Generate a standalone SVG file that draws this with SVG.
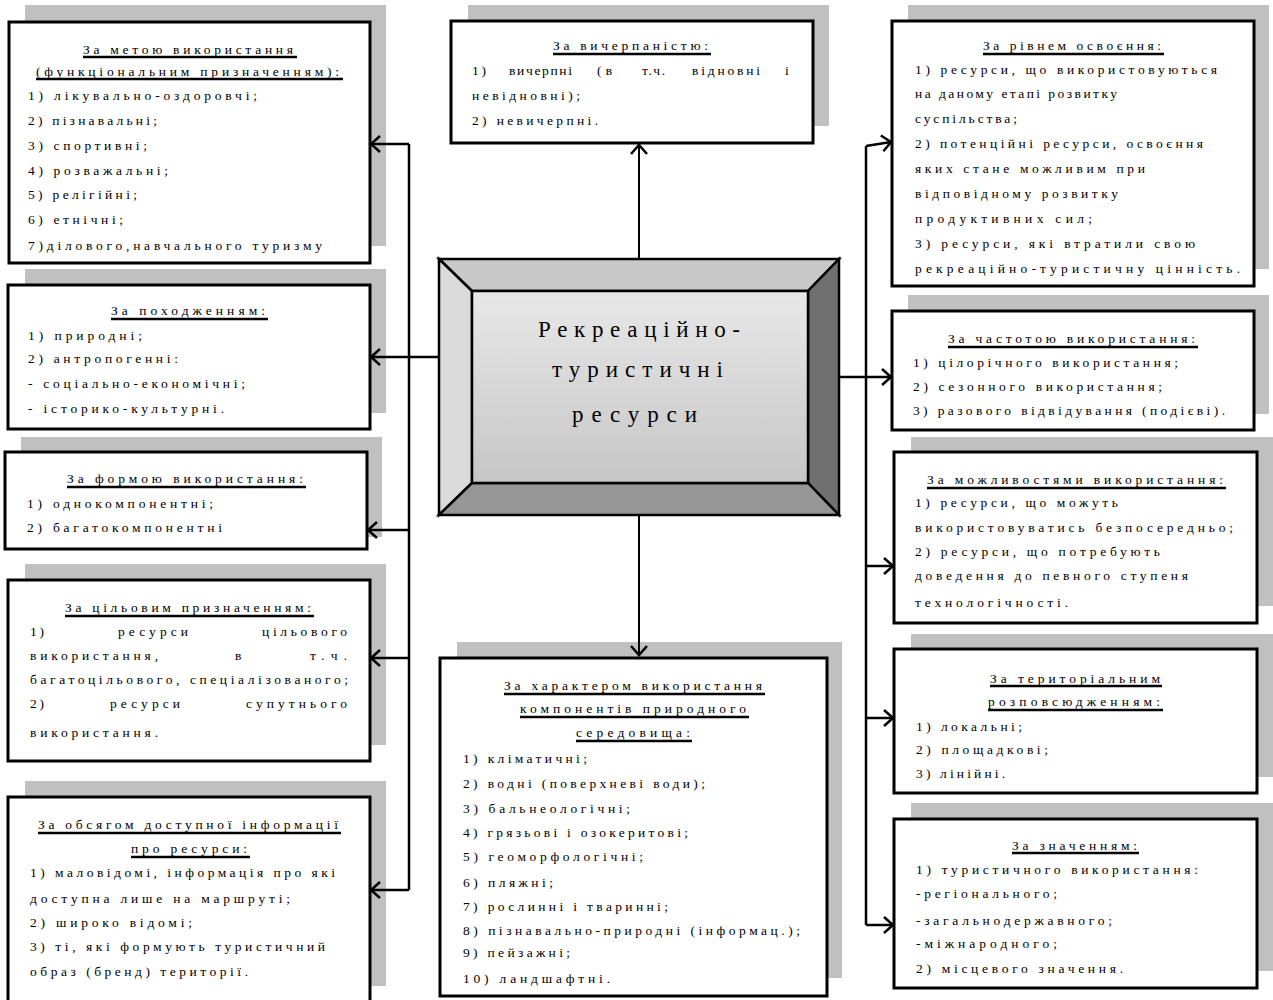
<svg xmlns="http://www.w3.org/2000/svg" width="1273" height="1000" viewBox="0 0 1273 1000">
<style>
.sh{fill:#c0c0c0;stroke:none}
.bx{fill:#fff;stroke:#000;stroke-width:3}
.t{font-family:"Liberation Serif","Times New Roman",serif;font-size:13.5px;fill:#000}
.ul{stroke:#000;stroke-width:2.5}
.c{fill:none;stroke:#000;stroke-width:2.5}
.cv{fill:none;stroke:#000;stroke-width:2}
.bev{stroke:#000;stroke-width:2.5;stroke-linejoin:miter}
.ct{font-family:"Liberation Serif","Times New Roman",serif;font-size:23px;fill:#000}
</style>
<defs>
<marker id="ah" markerUnits="userSpaceOnUse" viewBox="-1 -1 12 18" markerWidth="12" markerHeight="18" refX="9" refY="8" orient="auto" overflow="visible">
<path d="M0,0 L9,8 L0,16" fill="none" stroke="#000" stroke-width="2.5"/>
</marker>
<linearGradient id="g" x1="0" y1="0" x2="0" y2="1">
<stop offset="0" stop-color="#e8e8e8"/>
<stop offset="1" stop-color="#c6c6c6"/>
</linearGradient>
</defs>
<rect width="1273" height="1000" fill="#fff"/>

<g id="n-meta">
<rect class="sh" x="25" y="5" width="361" height="241"/>
<rect class="bx" x="9" y="22" width="361" height="241"/>
<text class="t" x="83" y="54" textLength="210">За метою використання</text>
<line class="ul" x1="83" y1="57" x2="297" y2="57"/>
<text class="t" x="36" y="76" textLength="303">(функціональним призначенням):</text>
<line class="ul" x1="36" y1="79" x2="343" y2="79"/>
<text class="t" x="28" y="100" textLength="229">1) лікувально-оздоровчі;</text>
<text class="t" x="28" y="125" textLength="129">2) пізнавальні;</text>
<text class="t" x="28" y="150" textLength="119">3) спортивні;</text>
<text class="t" x="28" y="175" textLength="140">4) розважальні;</text>
<text class="t" x="28" y="199" textLength="109">5) релігійні;</text>
<text class="t" x="28" y="224" textLength="95">6) етнічні;</text>
<text class="t" x="28" y="250" textLength="294">7)ділового,навчального туризму</text>
</g>

<g id="n-pokhodzh">
<rect class="sh" x="25" y="269" width="361" height="144"/>
<rect class="bx" x="8" y="285" width="362" height="144"/>
<text class="t" x="111" y="315" textLength="154">За походженням:</text>
<line class="ul" x1="111" y1="319" x2="268" y2="319"/>
<text class="t" x="28" y="340" textLength="114">1) природні;</text>
<text class="t" x="28" y="363" textLength="150">2) антропогенні:</text>
<text class="t" x="28" y="388" textLength="217">- соціально-економічні;</text>
<text class="t" x="28" y="413" textLength="196">- історико-культурні.</text>
</g>

<g id="n-forma">
<rect class="sh" x="21" y="437" width="361" height="100"/>
<rect class="bx" x="5" y="452" width="362" height="97"/>
<text class="t" x="67" y="483" textLength="236">За формою використання:</text>
<line class="ul" x1="67" y1="487" x2="306" y2="487"/>
<text class="t" x="27" y="508" textLength="186">1) однокомпонентні;</text>
<text class="t" x="27" y="532" textLength="195">2) багатокомпонентні</text>
</g>

<g id="n-tsil">
<rect class="sh" x="25" y="564" width="361" height="181"/>
<rect class="bx" x="8" y="580" width="362" height="181"/>
<text class="t" x="65" y="612" textLength="246">За цільовим призначенням:</text>
<line class="ul" x1="65" y1="616" x2="314" y2="616"/>
<text class="t" x="30" y="636" textLength="14">1)</text>
<text class="t" x="118" y="636" textLength="70">ресурси</text>
<text class="t" x="262" y="636" textLength="85">цільового</text>
<text class="t" x="30" y="660" textLength="128">використання,</text>
<text class="t" x="235" y="660">в</text>
<text class="t" x="310" y="660" textLength="37">т.ч.</text>
<text class="t" x="30" y="684" textLength="318">багатоцільового, спеціалізованого;</text>
<text class="t" x="30" y="708" textLength="14">2)</text>
<text class="t" x="110" y="708" textLength="70">ресурси</text>
<text class="t" x="246" y="708" textLength="101">супутнього</text>
<text class="t" x="30" y="737" textLength="128">використання.</text>
</g>

<g id="n-obsyag">
<rect class="sh" x="25" y="781" width="361" height="205"/>
<rect class="bx" x="8" y="797" width="362" height="215"/>
<text class="t" x="38" y="829" textLength="300">За обсягом доступної інформації</text>
<line class="ul" x1="38" y1="833" x2="341" y2="833"/>
<text class="t" x="131" y="853" textLength="116">про ресурси:</text>
<line class="ul" x1="131" y1="857" x2="250" y2="857"/>
<text class="t" x="30" y="877" textLength="305">1) маловідомі, інформація про які</text>
<text class="t" x="30" y="903" textLength="260">доступна лише на маршруті;</text>
<text class="t" x="30" y="927" textLength="162">2) широко відомі;</text>
<text class="t" x="30" y="951" textLength="295">3) ті, які формують туристичний</text>
<text class="t" x="30" y="976" textLength="218">образ (бренд) території.</text>
</g>

<g id="n-vycherp">
<rect class="sh" x="468" y="5" width="361" height="121"/>
<rect class="bx" x="451" y="21" width="362" height="122"/>
<text class="t" x="553" y="50" textLength="155">За вичерпаністю:</text>
<line class="ul" x1="553" y1="54" x2="711" y2="54"/>
<text class="t" x="472" y="75" textLength="14">1)</text>
<text class="t" x="509" y="75" textLength="63">вичерпні</text>
<text class="t" x="597" y="75" textLength="15">(в</text>
<text class="t" x="642" y="75" textLength="23">т.ч.</text>
<text class="t" x="692" y="75" textLength="68">відновні</text>
<text class="t" x="785" y="75">і</text>
<text class="t" x="472" y="100" textLength="108">невідновні);</text>
<text class="t" x="472" y="125" textLength="126">2) невичерпні.</text>
</g>

<g id="n-kharakter">
<rect class="sh" x="457" y="642" width="385" height="336"/>
<rect class="bx" x="440" y="658" width="387" height="338"/>
<text class="t" x="504" y="690" textLength="258">За характером використання</text>
<line class="ul" x1="504" y1="694" x2="765" y2="694"/>
<text class="t" x="520" y="713" textLength="226">компонентів природного</text>
<line class="ul" x1="520" y1="717" x2="749" y2="717"/>
<text class="t" x="576" y="737" textLength="114">середовища:</text>
<line class="ul" x1="576" y1="741" x2="692" y2="741"/>
<text class="t" x="463" y="763" textLength="124">1) кліматичні;</text>
<text class="t" x="463" y="788" textLength="242">2) водні (поверхневі води);</text>
<text class="t" x="463" y="813" textLength="167">3) бальнеологічні;</text>
<text class="t" x="463" y="837" textLength="225">4) грязьові і озокеритові;</text>
<text class="t" x="463" y="861" textLength="180">5) геоморфологічні;</text>
<text class="t" x="463" y="887" textLength="90">6) пляжні;</text>
<text class="t" x="463" y="911" textLength="205">7) рослинні і тваринні;</text>
<text class="t" x="463" y="935" textLength="337">8) пізнавально-природні (інформац.);</text>
<text class="t" x="463" y="957" textLength="107">9) пейзажні;</text>
<text class="t" x="463" y="983" textLength="147">10) ландшафтні.</text>
</g>

<g id="n-riven">
<rect class="sh" x="908" y="5" width="361" height="264"/>
<rect class="bx" x="892" y="21" width="362" height="265"/>
<text class="t" x="983" y="50" textLength="178">За рівнем освоєння:</text>
<line class="ul" x1="983" y1="54" x2="1164" y2="54"/>
<text class="t" x="915" y="74" textLength="302">1) ресурси, що використовуються</text>
<text class="t" x="915" y="98" textLength="202">на даному етапі розвитку</text>
<text class="t" x="915" y="123" textLength="102">суспільства;</text>
<text class="t" x="915" y="148" textLength="288">2) потенційні ресурси, освоєння</text>
<text class="t" x="915" y="173" textLength="230">яких стане можливим при</text>
<text class="t" x="915" y="198" textLength="203">відповідному розвитку</text>
<text class="t" x="915" y="223" textLength="177">продуктивних сил;</text>
<text class="t" x="915" y="248" textLength="280">3) ресурси, які втратили свою</text>
<text class="t" x="915" y="273" textLength="325">рекреаційно-туристичну цінність.</text>
</g>

<g id="n-chastota">
<rect class="sh" x="908" y="295" width="361" height="119"/>
<rect class="bx" x="892" y="311" width="362" height="119"/>
<text class="t" x="948" y="343" textLength="247">За частотою використання:</text>
<line class="ul" x1="948" y1="347" x2="1198" y2="347"/>
<text class="t" x="913" y="367" textLength="265">1) цілорічного використання;</text>
<text class="t" x="913" y="391" textLength="249">2) сезонного використання;</text>
<text class="t" x="913" y="415" textLength="312">3) разового відвідування (подієві).</text>
</g>

<g id="n-mozhl">
<rect class="sh" x="911" y="437" width="362" height="169"/>
<rect class="bx" x="894" y="452" width="363" height="171"/>
<text class="t" x="927" y="484" textLength="296">За можливостями використання:</text>
<line class="ul" x1="927" y1="488" x2="1226" y2="488"/>
<text class="t" x="915" y="507" textLength="203">1) ресурси, що можуть</text>
<text class="t" x="915" y="532" textLength="318">використовуватись безпосередньо;</text>
<text class="t" x="915" y="556" textLength="245">2) ресурси, що потребують</text>
<text class="t" x="915" y="580" textLength="273">доведення до певного ступеня</text>
<text class="t" x="915" y="607" textLength="153">технологічності.</text>
</g>

<g id="n-terytor">
<rect class="sh" x="911" y="634" width="362" height="143"/>
<rect class="bx" x="894" y="649" width="363" height="144"/>
<text class="t" x="990" y="683" textLength="170">За територіальним</text>
<line class="ul" x1="990" y1="686" x2="1162" y2="686"/>
<text class="t" x="988" y="706" textLength="172">розповсюдженням:</text>
<line class="ul" x1="988" y1="710" x2="1163" y2="710"/>
<text class="t" x="916" y="731" textLength="106">1) локальні;</text>
<text class="t" x="916" y="754" textLength="132">2) площадкові;</text>
<text class="t" x="916" y="778" textLength="89">3) лінійні.</text>
</g>

<g id="n-znach">
<rect class="sh" x="911" y="803" width="362" height="168"/>
<rect class="bx" x="894" y="819" width="363" height="169"/>
<text class="t" x="1012" y="850" textLength="125">За значенням:</text>
<line class="ul" x1="1012" y1="853" x2="1139" y2="853"/>
<text class="t" x="916" y="874" textLength="282">1) туристичного використання:</text>
<text class="t" x="916" y="898" textLength="141">-регіонального;</text>
<text class="t" x="916" y="925" textLength="196">-загальнодержавного;</text>
<text class="t" x="916" y="948" textLength="141">-міжнародного;</text>
<text class="t" x="916" y="973" textLength="207">2) місцевого значення.</text>
</g>

<g id="connectors">
<line class="cv" x1="639" y1="259" x2="639" y2="145" marker-end="url(#ah)"/>
<line class="cv" x1="639" y1="515" x2="639" y2="655" marker-end="url(#ah)"/>
<line class="c" x1="439" y1="357" x2="371" y2="357" marker-end="url(#ah)"/>
<polyline class="c" points="409,890 409,144"/>
<line class="c" x1="409" y1="144" x2="371" y2="144" marker-end="url(#ah)"/>
<line class="c" x1="409" y1="530" x2="368" y2="530" marker-end="url(#ah)"/>
<line class="c" x1="409" y1="658" x2="371" y2="658" marker-end="url(#ah)"/>
<line class="c" x1="409" y1="890" x2="371" y2="890" marker-end="url(#ah)"/>
<line class="c" x1="839" y1="377" x2="891" y2="377" marker-end="url(#ah)"/>
<polyline class="c" points="866,925 866,146"/>
<line class="c" x1="866" y1="146" x2="891" y2="142" marker-end="url(#ah)"/>
<line class="c" x1="866" y1="566" x2="893" y2="566" marker-end="url(#ah)"/>
<line class="c" x1="866" y1="718" x2="893" y2="718" marker-end="url(#ah)"/>
<line class="c" x1="866" y1="925" x2="893" y2="925" marker-end="url(#ah)"/>
</g>

<g id="n-center">
<polygon class="bev" points="439,259 839,259 808,291 472,291" fill="#c8c8c8"/>
<polygon class="bev" points="439,259 472,291 472,483 439,515" fill="#dadada"/>
<polygon class="bev" points="839,259 839,515 808,483 808,291" fill="#707070"/>
<polygon class="bev" points="439,515 472,483 808,483 839,515" fill="#969696"/>
<rect x="472" y="291" width="336" height="192" fill="url(#g)" stroke="#000" stroke-width="2.5"/>
<text class="ct" x="538" y="337" textLength="202">Рекреаційно-</text>
<text class="ct" x="552" y="377" textLength="171">туристичні</text>
<text class="ct" x="572" y="422" textLength="125">ресурси</text>
</g>
</svg>
